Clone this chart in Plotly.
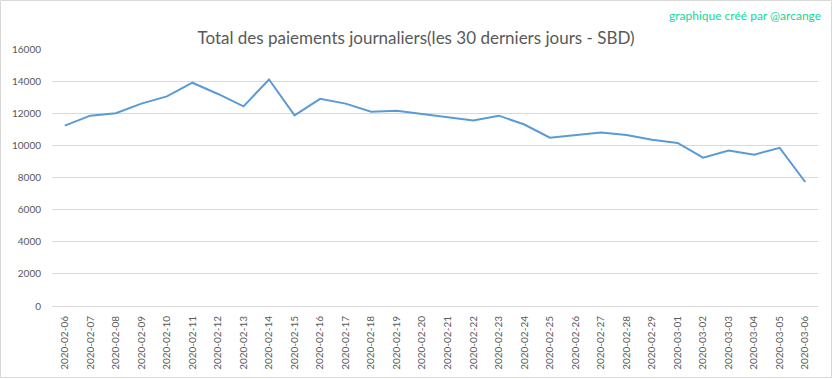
import plotly.graph_objects as go

dates = ["2020-02-06", "2020-02-07", "2020-02-08", "2020-02-09", "2020-02-10",
         "2020-02-11", "2020-02-12", "2020-02-13", "2020-02-14", "2020-02-15",
         "2020-02-16", "2020-02-17", "2020-02-18", "2020-02-19", "2020-02-20",
         "2020-02-21", "2020-02-22", "2020-02-23", "2020-02-24", "2020-02-25",
         "2020-02-26", "2020-02-27", "2020-02-28", "2020-02-29", "2020-03-01",
         "2020-03-02", "2020-03-03", "2020-03-04", "2020-03-05", "2020-03-06"]
payments = [11230, 11850, 12000, 12600, 13050,
            13900, 13200, 12430, 14100, 11870,
            12900, 12600, 12100, 12150, 11950,
            11750, 11550, 11850, 11300, 10480,
            10650, 10800, 10650, 10350, 10150,
            9230, 9680, 9420, 9850, 7720]
y_ticks = [0, 2000, 4000, 6000, 8000, 10000, 12000, 14000, 16000]

title_text = "Total des paiements journaliers(les 30 derniers jours - SBD)"
credit_text = "graphique créé par @arcange"

fig = go.Figure()
fig.add_trace(go.Scatter(
    x=dates, y=payments, mode="lines",
    line=dict(color="#5B9BD5", width=2),
    hoverinfo="x+y", showlegend=False,
))

L, R, T, B = 52, 15, 49, 73
W, H = 833, 379
pw, ph = W - L - R, H - T - B

fig.update_layout(
    width=W, height=H,
    margin=dict(l=L, r=R, t=T, b=B, pad=0, autoexpand=False),
    paper_bgcolor="white", plot_bgcolor="white",
    font=dict(family="Lato, 'Open Sans', sans-serif", color="#595959"),
    title=dict(text=title_text, x=416 / W, xanchor="center",
               y=1 - 38 / H, yanchor="middle",
               font=dict(size=17, color="#595959", family="Lato, sans-serif")),
    xaxis=dict(type="category", tickangle=-90, showgrid=False, automargin=False,
               showline=False, ticks="", ticklabelstandoff=7,
               tickfont=dict(size=10, color="#595959"),
               range=[-0.5, len(dates) - 0.5]),
    yaxis=dict(range=[0, 16000], tickvals=y_ticks, automargin=False,
               ticktext=[str(v) for v in y_ticks],
               showgrid=True, gridcolor="#D9D9D9", gridwidth=1,
               zeroline=True, zerolinecolor="#D9D9D9", zerolinewidth=1,
               showline=False, ticks="", ticklabelstandoff=10,
               tickfont=dict(size=10, color="#595959")),
    annotations=[dict(text=credit_text, xref="paper", yref="paper",
                      x=(823 - L) / pw, y=(H - B - 15) / ph,
                      xanchor="right", yanchor="middle", showarrow=False,
                      font=dict(size=12, color="#12D89A",
                                family="Lato, sans-serif"))],
    shapes=[dict(type="rect", xref="paper", yref="paper",
                 x0=(0.5 - L) / pw, x1=(W - 1.5 - L) / pw,
                 y0=(H - B - (H - 1.5)) / ph, y1=(H - B - 0.5) / ph,
                 line=dict(color="#D9D9D9", width=1), layer="below")],
)

fig.write_html("out.html",
               config={"displayModeBar": False},
               post_script="document.body.style.margin='0px';"
                           "document.body.style.overflow='hidden';")
